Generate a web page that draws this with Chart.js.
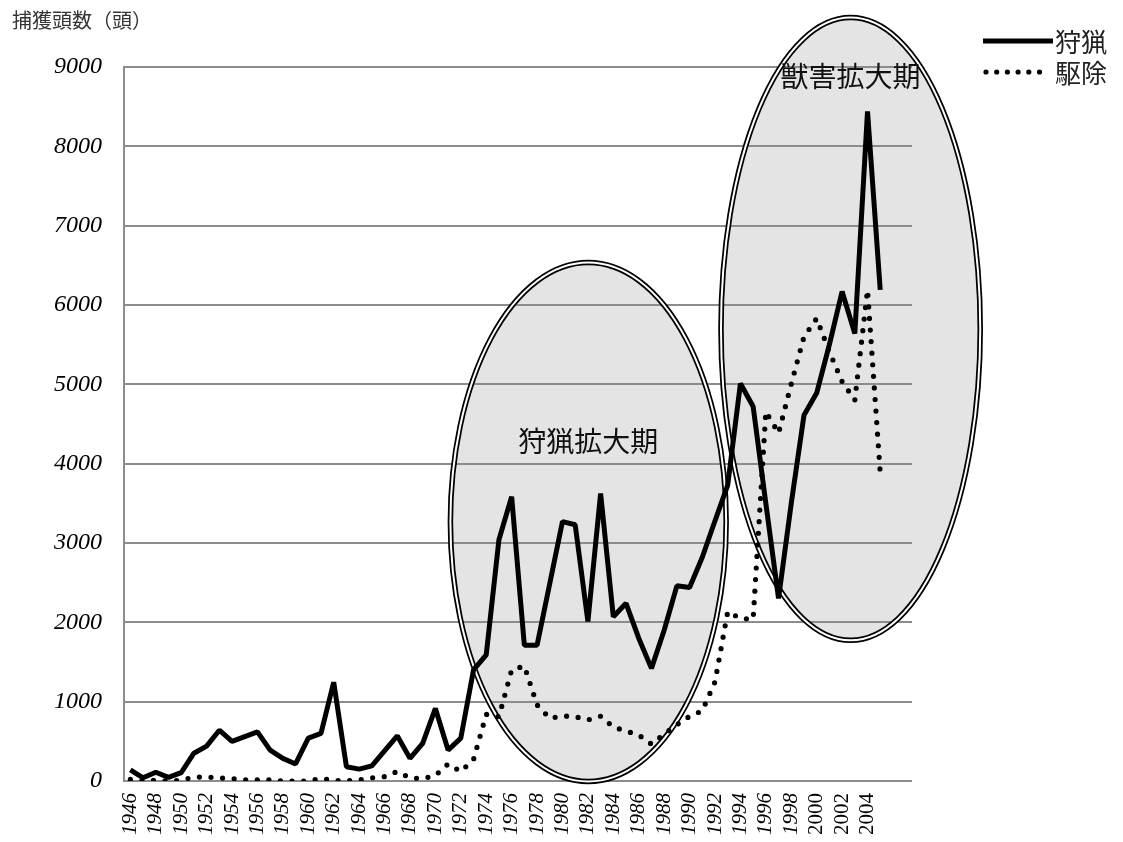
<!DOCTYPE html>
<html>
<head>
<meta charset="utf-8">
<script src="https://cdn.jsdelivr.net/npm/chart.js@4/dist/chart.umd.min.js"></script>
<style>
  html, body { margin:0; padding:0; background:#fff; }
  #kutu { width:1123px; height:842px; }
</style>
</head>
<body>
<div id="kutu"><canvas id="hokakuChart" width="1123" height="842"></canvas></div>
<script>
/* DATA */
var years = [1946,1947,1948,1949,1950,1951,1952,1953,1954,1955,
             1956,1957,1958,1959,1960,1961,1962,1963,1964,1965,
             1966,1967,1968,1969,1970,1971,1972,1973,1974,1975,
             1976,1977,1978,1979,1980,1981,1982,1983,1984,1985,
             1986,1987,1988,1989,1990,1991,1992,1993,1994,1995,
             1996,1997,1998,1999,2000,2001,2002,2003,2004,2005];
// two empty categories at the end (the plot runs on past 2005)
var bosKategoriler = ['', ''];

var shuryo = [140,40,110,45,105,350,440,640,500,560,
              620,390,285,215,540,600,1245,180,150,190,
              380,570,285,475,915,390,540,1400,1590,3040,
              3585,1710,1710,2490,3270,3230,2010,3625,2070,2240,
              1800,1420,1900,2460,2440,2820,3280,3730,5010,4720,
              3500,2300,3500,4610,4890,5500,6170,5640,8440,6190];

var kujo = [20,0,10,0,10,50,50,40,30,15,
            15,15,0,0,0,30,10,0,15,40,
            55,120,40,30,70,215,120,270,840,810,
            1400,1450,960,790,820,810,770,817,680,630,
            580,465,590,710,815,885,1250,2135,2050,2040,
            4655,4385,5005,5600,5830,5410,5035,4800,6190,3885];

var yTicks = [0,1000,2000,3000,4000,5000,6000,7000,8000,9000];
var seriesNames = ['狩猟', '駆除'];
var yTitle = '捕獲頭数（頭）';

/* ELLIPSE NOTES (data units: category index / head count) */
var kikanlar = [
  { text:'狩猟拡大期', cx:36.03, cy:3265, rx:10.85, ry:3270, tx:36.03, ty:4286 },
  { text:'獣害拡大期', cx:56.67, cy:5698, rx:10.2, ry:3925, tx:56.67, ty:8887 }
];

var serifFont = "'Liberation Serif', 'Times New Roman', serif";
var cjkFont = "'Noto Sans CJK JP', 'Noto Sans', sans-serif";

function elipsYolu(ctx, x, y, rx, ry) {
  ctx.beginPath();
  ctx.ellipse(x, y, rx, ry, 0, 0, Math.PI * 2);
}

function elipsPiksel(chart, k) {
  var xs = chart.scales.x, ys = chart.scales.y;
  var x = xs.getPixelForValue(k.cx);
  var y = ys.getPixelForValue(k.cy);
  return {
    x: x, y: y,
    rx: xs.getPixelForValue(k.cx + k.rx) - x,
    ry: y - ys.getPixelForValue(k.cy + k.ry)
  };
}

var kikanPlugin = {
  id: 'kikan',
  beforeDraw: function (chart) {
    var ctx = chart.ctx;
    ctx.save();
    kikanlar.forEach(function (k) {
      var p = elipsPiksel(chart, k);
      elipsYolu(ctx, p.x, p.y, p.rx, p.ry);
      ctx.fillStyle = '#e4e4e4';
      ctx.fill();
    });
    ctx.restore();
  },
  beforeDatasetsDraw: function (chart) {
    var ctx = chart.ctx;
    ctx.save();
    kikanlar.forEach(function (k) {
      var p = elipsPiksel(chart, k);
      elipsYolu(ctx, p.x, p.y, p.rx, p.ry);
      ctx.strokeStyle = '#000';
      ctx.lineWidth = 5.5;
      ctx.stroke();
      ctx.strokeStyle = '#fff';
      ctx.lineWidth = 2;
      ctx.stroke();
    });
    // labels
    ctx.fillStyle = '#111';
    ctx.font = '28px ' + cjkFont;
    ctx.textAlign = 'center';
    ctx.textBaseline = 'middle';
    kikanlar.forEach(function (k) {
      ctx.fillText(k.text, chart.scales.x.getPixelForValue(k.tx), chart.scales.y.getPixelForValue(k.ty));
    });
    ctx.restore();
  },
  afterDraw: function (chart) {
    var ctx = chart.ctx;
    ctx.save();
    // axis title
    ctx.fillStyle = '#333';
    ctx.font = '20px ' + cjkFont;
    ctx.textAlign = 'left';
    ctx.textBaseline = 'middle';
    ctx.fillText(yTitle, 12, 20);

    // legend
    var ds = chart.data.datasets;
    var satirlar = [41, 72];
    ctx.font = '26px ' + cjkFont;
    ctx.fillStyle = '#222';
    for (var i = 0; i < ds.length; i++) {
      var y = satirlar[i];
      ctx.beginPath();
      ctx.strokeStyle = ds[i].borderColor;
      ctx.lineWidth = ds[i].borderWidth;
      ctx.lineCap = ds[i].borderCapStyle || 'butt';
      ctx.setLineDash(i === 1 ? [0, 10.7] : []);
      ctx.moveTo(i === 1 ? 986 : 983, y);
      ctx.lineTo(i === 1 ? 1048 : 1053, y);
      ctx.stroke();
      ctx.setLineDash([]);
      ctx.fillText(ds[i].label, 1055, y + 1);
    }
    ctx.restore();
  }
};

var ctx = document.getElementById("hokakuChart");
var myChart = new Chart(ctx, {
  type: 'line',
  data: {
    labels: years.concat(bosKategoriler),
    datasets: [{
      label: seriesNames[0],
      data: shuryo,
      borderColor: '#000',
      borderWidth: 5,
      borderJoinStyle: 'bevel',
      pointRadius: 0,
      tension: 0,
      fill: false
    },{
      label: seriesNames[1],
      data: kujo,
      borderColor: '#000',
      borderWidth: 5.2,
      borderCapStyle: 'round',
      borderDash: [0, 11.6],
      pointRadius: 0,
      tension: 0,
      fill: false
    }]
  },
  options: {
    responsive: false,
    animation: false,
    events: [],
    layout: { padding: { top: 67, right: 211, left: 0, bottom: 0 } },
    plugins: {
      legend: { display: false },
      title: { display: false },
      tooltip: { enabled: false }
    },
    scales: {
      x: {
        type: 'category',
        offset: true,
        grid: { display: false, drawTicks: false, tickLength: 0 },
        border: { display: false },
        ticks: {
          autoSkip: false,
          minRotation: 90,
          maxRotation: 90,
          padding: 12,
          color: '#000',
          font: function (c) {
            return { family: serifFont, size: 21, style: (c.index >= 54 ? 'normal' : 'italic') };
          },
          callback: function (val, i) {
            var yil = years[i];
            return (yil && i % 2 === 0 && yil <= 2004) ? String(yil) : '';
          }
        },
        afterFit: function (s) { s.height = 61; }
      },
      y: {
        min: 0,
        max: 9000,
        afterBuildTicks: function (s) {
          s.ticks = yTicks.map(function (v) { return { value: v }; });
        },
        grid: { color: '#8c8c8c', lineWidth: 2, drawTicks: false, tickLength: 0 },
        border: { display: true, color: '#8c8c8c', width: 2 },
        ticks: {
          padding: 22,
          color: '#000',
          font: { family: serifFont, size: 24, style: 'italic' },
          callback: function (v) { return String(v); }
        },
        afterFit: function (s) { s.width = 124; }
      }
    }
  },
  plugins: [kikanPlugin]
});
</script>
</body>
</html>
